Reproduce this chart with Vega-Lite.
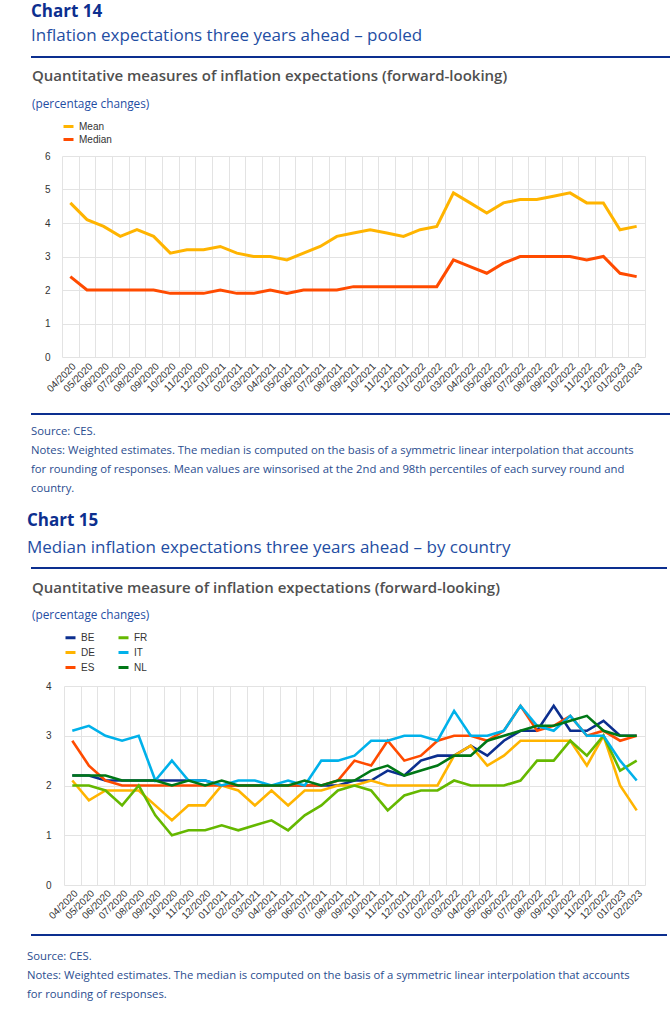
{
  "$schema": "https://vega.github.io/schema/vega-lite/v6.json",
  "padding": {"left": 27, "top": 3, "right": 0, "bottom": 0},
  "background": "white",
  "datasets": {
    "pooled": [
      {"month": "04/2020", "Mean": 4.6, "Median": 2.4},
      {"month": "05/2020", "Mean": 4.1, "Median": 2.0},
      {"month": "06/2020", "Mean": 3.9, "Median": 2.0},
      {"month": "07/2020", "Mean": 3.6, "Median": 2.0},
      {"month": "08/2020", "Mean": 3.8, "Median": 2.0},
      {"month": "09/2020", "Mean": 3.6, "Median": 2.0},
      {"month": "10/2020", "Mean": 3.1, "Median": 1.9},
      {"month": "11/2020", "Mean": 3.2, "Median": 1.9},
      {"month": "12/2020", "Mean": 3.2, "Median": 1.9},
      {"month": "01/2021", "Mean": 3.3, "Median": 2.0},
      {"month": "02/2021", "Mean": 3.1, "Median": 1.9},
      {"month": "03/2021", "Mean": 3.0, "Median": 1.9},
      {"month": "04/2021", "Mean": 3.0, "Median": 2.0},
      {"month": "05/2021", "Mean": 2.9, "Median": 1.9},
      {"month": "06/2021", "Mean": 3.1, "Median": 2.0},
      {"month": "07/2021", "Mean": 3.3, "Median": 2.0},
      {"month": "08/2021", "Mean": 3.6, "Median": 2.0},
      {"month": "09/2021", "Mean": 3.7, "Median": 2.1},
      {"month": "10/2021", "Mean": 3.8, "Median": 2.1},
      {"month": "11/2021", "Mean": 3.7, "Median": 2.1},
      {"month": "12/2021", "Mean": 3.6, "Median": 2.1},
      {"month": "01/2022", "Mean": 3.8, "Median": 2.1},
      {"month": "02/2022", "Mean": 3.9, "Median": 2.1},
      {"month": "03/2022", "Mean": 4.9, "Median": 2.9},
      {"month": "04/2022", "Mean": 4.6, "Median": 2.7},
      {"month": "05/2022", "Mean": 4.3, "Median": 2.5},
      {"month": "06/2022", "Mean": 4.6, "Median": 2.8},
      {"month": "07/2022", "Mean": 4.7, "Median": 3.0},
      {"month": "08/2022", "Mean": 4.7, "Median": 3.0},
      {"month": "09/2022", "Mean": 4.8, "Median": 3.0},
      {"month": "10/2022", "Mean": 4.9, "Median": 3.0},
      {"month": "11/2022", "Mean": 4.6, "Median": 2.9},
      {"month": "12/2022", "Mean": 4.6, "Median": 3.0},
      {"month": "01/2023", "Mean": 3.8, "Median": 2.5},
      {"month": "02/2023", "Mean": 3.9, "Median": 2.4}
    ],
    "country": [
      {"month": "04/2020", "BE": 2.2, "DE": 2.1, "ES": 2.9, "FR": 2.0, "IT": 3.1, "NL": 2.2},
      {"month": "05/2020", "BE": 2.2, "DE": 1.7, "ES": 2.4, "FR": 2.0, "IT": 3.2, "NL": 2.2},
      {"month": "06/2020", "BE": 2.1, "DE": 1.9, "ES": 2.1, "FR": 1.9, "IT": 3.0, "NL": 2.2},
      {"month": "07/2020", "BE": 2.1, "DE": 1.9, "ES": 2.0, "FR": 1.6, "IT": 2.9, "NL": 2.1},
      {"month": "08/2020", "BE": 2.1, "DE": 1.9, "ES": 2.0, "FR": 2.0, "IT": 3.0, "NL": 2.1},
      {"month": "09/2020", "BE": 2.1, "DE": 1.6, "ES": 2.0, "FR": 1.4, "IT": 2.1, "NL": 2.1},
      {"month": "10/2020", "BE": 2.1, "DE": 1.3, "ES": 2.0, "FR": 1.0, "IT": 2.5, "NL": 2.0},
      {"month": "11/2020", "BE": 2.1, "DE": 1.6, "ES": 2.0, "FR": 1.1, "IT": 2.1, "NL": 2.1},
      {"month": "12/2020", "BE": 2.1, "DE": 1.6, "ES": 2.0, "FR": 1.1, "IT": 2.1, "NL": 2.0},
      {"month": "01/2021", "BE": 2.0, "DE": 2.0, "ES": 2.0, "FR": 1.2, "IT": 2.0, "NL": 2.1},
      {"month": "02/2021", "BE": 2.0, "DE": 1.9, "ES": 2.0, "FR": 1.1, "IT": 2.1, "NL": 2.0},
      {"month": "03/2021", "BE": 2.0, "DE": 1.6, "ES": 2.0, "FR": 1.2, "IT": 2.1, "NL": 2.0},
      {"month": "04/2021", "BE": 2.0, "DE": 1.9, "ES": 2.0, "FR": 1.3, "IT": 2.0, "NL": 2.0},
      {"month": "05/2021", "BE": 2.0, "DE": 1.6, "ES": 2.0, "FR": 1.1, "IT": 2.1, "NL": 2.0},
      {"month": "06/2021", "BE": 2.0, "DE": 1.9, "ES": 2.0, "FR": 1.4, "IT": 2.0, "NL": 2.1},
      {"month": "07/2021", "BE": 2.0, "DE": 1.9, "ES": 2.0, "FR": 1.6, "IT": 2.5, "NL": 2.0},
      {"month": "08/2021", "BE": 2.0, "DE": 2.0, "ES": 2.1, "FR": 1.9, "IT": 2.5, "NL": 2.1},
      {"month": "09/2021", "BE": 2.1, "DE": 2.0, "ES": 2.5, "FR": 2.0, "IT": 2.6, "NL": 2.1},
      {"month": "10/2021", "BE": 2.1, "DE": 2.1, "ES": 2.4, "FR": 1.9, "IT": 2.9, "NL": 2.3},
      {"month": "11/2021", "BE": 2.3, "DE": 2.0, "ES": 2.9, "FR": 1.5, "IT": 2.9, "NL": 2.4},
      {"month": "12/2021", "BE": 2.2, "DE": 2.0, "ES": 2.5, "FR": 1.8, "IT": 3.0, "NL": 2.2},
      {"month": "01/2022", "BE": 2.5, "DE": 2.0, "ES": 2.6, "FR": 1.9, "IT": 3.0, "NL": 2.3},
      {"month": "02/2022", "BE": 2.6, "DE": 2.0, "ES": 2.9, "FR": 1.9, "IT": 2.9, "NL": 2.4},
      {"month": "03/2022", "BE": 2.6, "DE": 2.6, "ES": 3.0, "FR": 2.1, "IT": 3.5, "NL": 2.6},
      {"month": "04/2022", "BE": 2.8, "DE": 2.8, "ES": 3.0, "FR": 2.0, "IT": 3.0, "NL": 2.6},
      {"month": "05/2022", "BE": 2.6, "DE": 2.4, "ES": 2.9, "FR": 2.0, "IT": 3.0, "NL": 2.9},
      {"month": "06/2022", "BE": 2.9, "DE": 2.6, "ES": 3.1, "FR": 2.0, "IT": 3.1, "NL": 3.0},
      {"month": "07/2022", "BE": 3.1, "DE": 2.9, "ES": 3.6, "FR": 2.1, "IT": 3.6, "NL": 3.1},
      {"month": "08/2022", "BE": 3.1, "DE": 2.9, "ES": 3.1, "FR": 2.5, "IT": 3.2, "NL": 3.2},
      {"month": "09/2022", "BE": 3.6, "DE": 2.9, "ES": 3.2, "FR": 2.5, "IT": 3.1, "NL": 3.2},
      {"month": "10/2022", "BE": 3.1, "DE": 2.9, "ES": 3.4, "FR": 2.9, "IT": 3.4, "NL": 3.3},
      {"month": "11/2022", "BE": 3.1, "DE": 2.4, "ES": 3.0, "FR": 2.6, "IT": 3.0, "NL": 3.4},
      {"month": "12/2022", "BE": 3.3, "DE": 3.0, "ES": 3.1, "FR": 3.0, "IT": 3.0, "NL": 3.1},
      {"month": "01/2023", "BE": 3.0, "DE": 2.0, "ES": 2.9, "FR": 2.3, "IT": 2.5, "NL": 3.0},
      {"month": "02/2023", "BE": 3.0, "DE": 1.5, "ES": 3.0, "FR": 2.5, "IT": 2.1, "NL": 3.0}
    ]
  },
  "columns": 1,
  "spacing": 17,
  "resolve": {"scale": {"color": "independent"}, "legend": {"color": "independent"}},
  "concat": [
    {
      "columns": 1,
      "spacing": 7,
      "resolve": {"scale": {"color": "independent"}, "legend": {"color": "independent"}},
      "concat": [
        {
          "width": 645, "height": 2,
          "view": {"fill": "#0c2f8f", "stroke": null},
          "title": {"text": "Chart 14", "subtitle": "Inflation expectations three years ahead – pooled", "anchor": "start", "frame": "bounds", "dx": 0, "font": "Open Sans", "fontSize": 17, "fontWeight": "bold", "color": "#0c2f8f", "subtitleFont": "Open Sans", "subtitleFontSize": 17, "subtitleColor": "#1f4ea3", "subtitlePadding": 7, "offset": 6},
          "data": {"values": [{"t": ""}]},
          "mark": {"type": "text"},
          "encoding": {"text": {"field": "t"}}
        },
        {
          "spacing": 0,
          "resolve": {"scale": {"color": "independent"}, "legend": {"color": "independent"}},
          "hconcat": [
            {
              "width": 1, "height": 1,
              "data": {"values": [{"t": ""}]},
              "mark": {"type": "text"},
              "encoding": {"text": {"field": "t"}}
            },
            {
              "width": 583, "height": 201,
              "title": {"text": "Quantitative measures of inflation expectations (forward-looking)", "subtitle": "(percentage changes)", "anchor": "start", "frame": "bounds", "dx": -1, "font": "Open Sans", "fontSize": 15, "fontWeight": 600, "color": "#505050", "subtitleFont": "Open Sans", "subtitleFontSize": 11.8, "subtitleColor": "#1f4ea3", "subtitlePadding": 15, "offset": 9},
              "data": {"name": "pooled"},
              "transform": [{"fold": ["Mean", "Median"], "as": ["series", "value"]}],
              "mark": {"type": "line", "strokeWidth": 3},
              "encoding": {
                "x": {"field": "month", "type": "ordinal", "sort": null, "bandPosition": 0.5, "scale": {"type": "band", "paddingInner": 0, "paddingOuter": 0},
                      "axis": {"title": null, "labelAngle": -45, "tickBand": "extent", "ticks": false, "domain": false, "grid": true, "labelPadding": 4, "minExtent": 44}},
                "y": {"field": "value", "type": "quantitative", "scale": {"domain": [0, 6]},
                      "axis": {"title": null, "values": [0, 1, 2, 3, 4, 5, 6], "ticks": false, "domain": false, "labelPadding": 12, "minExtent": 29, "maxExtent": 29}},
                "color": {"field": "series", "type": "nominal", "scale": {"domain": ["Mean", "Median"], "range": ["#ffb400", "#ff4b00"]},
                          "legend": {"title": null, "orient": "top", "direction": "vertical", "symbolType": "stroke", "symbolStrokeWidth": 3, "symbolSize": 100, "labelFontSize": 10, "labelColor": "#333333", "rowPadding": -1, "offset": 10}}
              }
            }
          ]
        },
        {
          "width": 645, "height": 2,
          "view": {"fill": "#0c2f8f", "stroke": null},
          "title": {"text": ["Source: CES.", "Notes: Weighted estimates. The median is computed on the basis of a symmetric linear interpolation that accounts", "for rounding of responses. Mean values are winsorised at the 2nd and 98th percentiles of each survey round and", "country."], "orient": "bottom", "anchor": "start", "frame": "bounds", "dx": 0, "font": "Open Sans", "fontSize": 11.3, "fontWeight": "normal", "color": "#2a4d8f", "lineHeight": 19, "offset": 7},
          "data": {"values": [{"t": ""}]},
          "mark": {"type": "text"},
          "encoding": {"text": {"field": "t"}}
        }
      ]
    },
    {
      "columns": 1,
      "spacing": 8,
      "resolve": {"scale": {"color": "independent"}, "legend": {"color": "independent"}},
      "concat": [
        {
          "width": 636, "height": 2,
          "view": {"fill": "#0c2f8f", "stroke": null},
          "title": {"text": "Chart 15", "subtitle": "Median inflation expectations three years ahead – by country", "anchor": "start", "frame": "bounds", "dx": -4, "font": "Open Sans", "fontSize": 17, "fontWeight": "bold", "color": "#0c2f8f", "subtitleFont": "Open Sans", "subtitleFontSize": 17, "subtitleColor": "#1f4ea3", "subtitlePadding": 10, "offset": 5},
          "data": {"values": [{"t": ""}]},
          "mark": {"type": "text"},
          "encoding": {"text": {"field": "t"}}
        },
        {
          "spacing": 0,
          "resolve": {"scale": {"color": "independent"}, "legend": {"color": "independent"}},
          "hconcat": [
            {
              "width": 1, "height": 1,
              "data": {"values": [{"t": ""}]},
              "mark": {"type": "text"},
              "encoding": {"text": {"field": "t"}}
            },
            {
              "width": 581, "height": 199,
              "title": {"text": "Quantitative measure of inflation expectations (forward-looking)", "subtitle": "(percentage changes)", "anchor": "start", "frame": "bounds", "dx": -7, "font": "Open Sans", "fontSize": 15, "fontWeight": 600, "color": "#505050", "subtitleFont": "Open Sans", "subtitleFontSize": 11.8, "subtitleColor": "#1f4ea3", "subtitlePadding": 14, "offset": 9},
              "data": {"name": "country"},
              "transform": [{"fold": ["BE", "DE", "ES", "FR", "IT", "NL"], "as": ["country", "value"]}],
              "mark": {"type": "line", "strokeWidth": 2.6},
              "encoding": {
                "x": {"field": "month", "type": "ordinal", "sort": null, "bandPosition": 0.5, "scale": {"type": "band", "paddingInner": 0, "paddingOuter": 0},
                      "axis": {"title": null, "labelAngle": -45, "tickBand": "extent", "ticks": false, "domain": false, "grid": true, "labelPadding": 3, "minExtent": 36}},
                "y": {"field": "value", "type": "quantitative", "scale": {"domain": [0, 4]},
                      "axis": {"title": null, "values": [0, 1, 2, 3, 4], "ticks": false, "domain": false, "labelPadding": 13, "minExtent": 25, "maxExtent": 25}},
                "color": {"field": "country", "type": "nominal", "scale": {"domain": ["BE", "FR", "DE", "IT", "ES", "NL"], "range": ["#0c2f8f", "#65b800", "#ffb400", "#00b1ea", "#ff4b00", "#007816"]},
                          "legend": {"title": null, "orient": "top", "direction": "horizontal", "columns": 2, "columnPadding": 17, "symbolType": "stroke", "symbolStrokeWidth": 3, "symbolSize": 100, "labelFontSize": 10, "labelColor": "#333333", "rowPadding": 2, "offset": 12}}
              }
            }
          ]
        },
        {
          "width": 636, "height": 2,
          "view": {"fill": "#0c2f8f", "stroke": null},
          "title": {"text": ["Source: CES.", "Notes: Weighted estimates. The median is computed on the basis of a symmetric linear interpolation that accounts", "for rounding of responses."], "orient": "bottom", "anchor": "start", "frame": "bounds", "dx": -4, "font": "Open Sans", "fontSize": 11.3, "fontWeight": "normal", "color": "#2a4d8f", "lineHeight": 19, "offset": 11},
          "data": {"values": [{"t": ""}]},
          "mark": {"type": "text"},
          "encoding": {"text": {"field": "t"}}
        }
      ]
    }
  ],
  "config": {
    "view": {"stroke": null},
    "font": "Liberation Sans",
    "axis": {"labelFont": "Liberation Sans", "labelFontSize": 10, "labelColor": "#333333", "gridColor": "#e3e3e3", "gridWidth": 1},
    "legend": {"labelFont": "Liberation Sans"}
  }
}
